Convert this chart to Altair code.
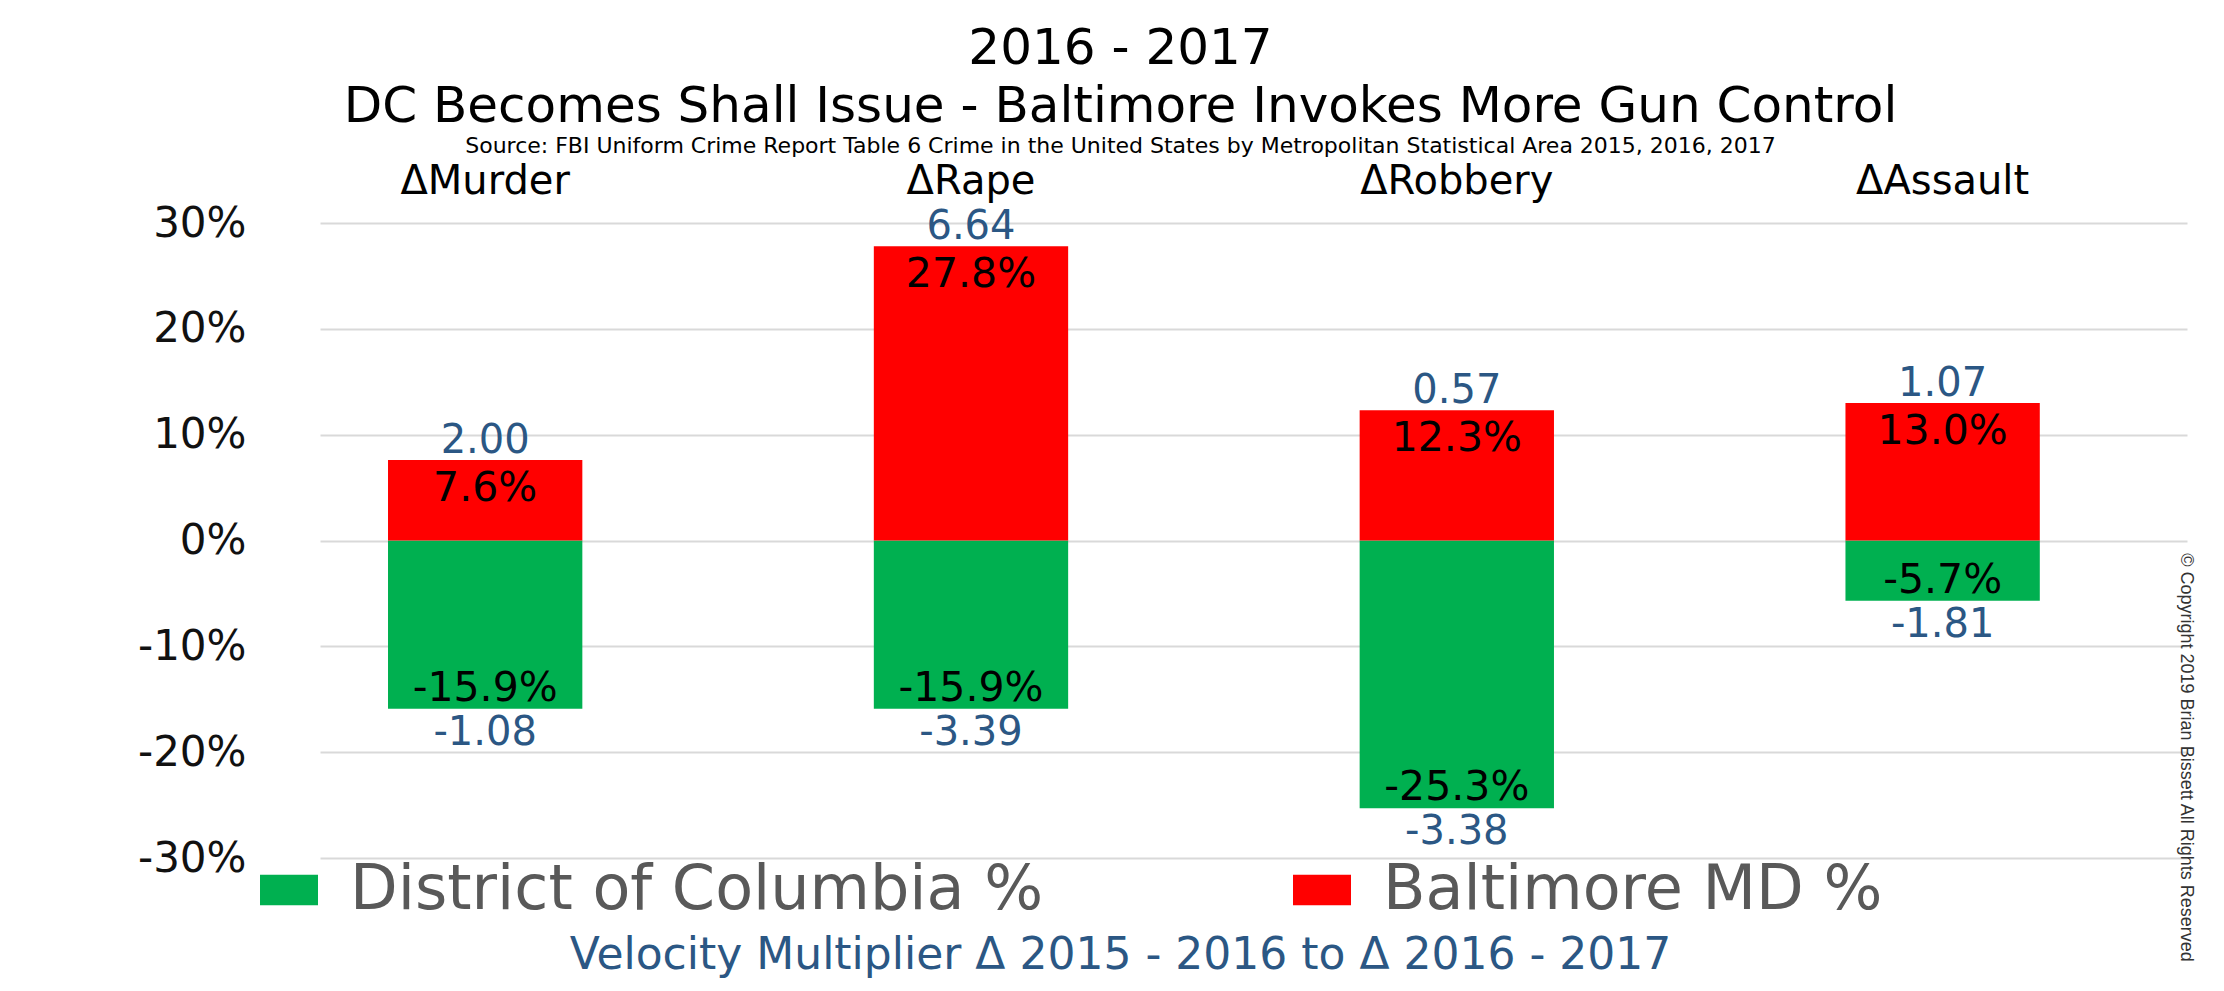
import altair as alt
import pandas as pd

# ---- data ----
crimes = ["ΔMurder", "ΔRape", "ΔRobbery", "ΔAssault"]
dc_pct = [-15.9, -15.9, -25.3, -5.7]
balt_pct = [7.6, 27.8, 12.3, 13.0]
dc_vel = [-1.08, -3.39, -3.38, -1.81]
balt_vel = [2.00, 6.64, 0.57, 1.07]
series_names = ["District of Columbia %", "Baltimore MD %"]
series_colors = ["#00B050", "#FF0000"]
y_ticks = [-30, -20, -10, 0, 10, 20, 30]

rows = []
for i, c in enumerate(crimes):
    rows.append(dict(crime=c, series=series_names[0], value=dc_pct[i], vel=dc_vel[i]))
    rows.append(dict(crime=c, series=series_names[1], value=balt_pct[i], vel=balt_vel[i]))
df = pd.DataFrame(rows)
df["pct_label"] = df["value"].map(lambda v: f"{v:.1f}%")
df["vel_label"] = df["vel"].map(lambda v: f"{v:.2f}")

FONT = "DejaVu Sans"
BLUE = "#2B5784"

x_scale = alt.Scale(domain=crimes, paddingInner=0.6, paddingOuter=0.2215, align=0.316)
y_scale = alt.Scale(domain=[-30, 30], nice=False, zero=False)

no_x = alt.X("crime:N", scale=x_scale, axis=None)
no_y = alt.Y("value:Q", scale=y_scale, axis=None)

base = alt.Chart(df)

bars = base.mark_bar(strokeWidth=0).encode(
    x=alt.X(
        "crime:N",
        scale=x_scale,
        axis=alt.Axis(
            orient="top", title=None, labelAngle=0, labelFontSize=40,
            labelFont=FONT, labelColor="#000000", labelBaseline="alphabetic",
            labelPadding=30, labelLimit=1000, ticks=False, tickSize=0,
            domain=False, grid=False,
        ),
    ),
    y=alt.Y(
        "value:Q",
        scale=y_scale,
        stack=None,
        axis=alt.Axis(
            values=y_ticks, labelExpr="datum.value + '%'", labelFontSize=42,
            labelFont=FONT, labelColor="#111111", labelPadding=74, ticks=False,
            tickSize=0, domain=False, grid=True, gridColor="#D9D9D9",
            gridWidth=2, title=None,
        ),
    ),
    color=alt.Color(
        "series:N",
        scale=alt.Scale(domain=series_names, range=series_colors),
        legend=alt.Legend(
            orient="none", legendX=-62, legendY=636, direction="horizontal",
            title=None, labelFontSize=62, labelFont=FONT, labelColor="#595959",
            symbolType="M-1,-0.53H1V0.53H-1Z", symbolSize=3364,
            symbolStrokeWidth=0, symbolOpacity=1, labelOffset=30,
            columnPadding=247, padding=0, labelLimit=2000,
        ),
    ),
)

balt = base.transform_filter(alt.datum.series == series_names[1])
dcs = base.transform_filter(alt.datum.series == series_names[0])

pct_balt = balt.mark_text(
    font=FONT, fontSize=41, color="#000000", baseline="alphabetic", dy=41
).encode(x=no_x, y=no_y, text="pct_label:N")

pct_dc = dcs.mark_text(
    font=FONT, fontSize=41, color="#000000", baseline="alphabetic", dy=-8
).encode(x=no_x, y=no_y, text="pct_label:N")

vel_balt = balt.mark_text(
    font=FONT, fontSize=40, color=BLUE, baseline="alphabetic", dy=-7
).encode(x=no_x, y=no_y, text="vel_label:N")

vel_dc = dcs.mark_text(
    font=FONT, fontSize=40, color=BLUE, baseline="alphabetic", dy=36
).encode(
    x=alt.X(
        "crime:N",
        scale=x_scale,
        axis=alt.Axis(
            orient="bottom", labels=False, ticks=False, tickSize=0,
            domain=False, grid=False,
            title="Velocity Multiplier Δ 2015 - 2016 to Δ 2016 - 2017",
            titleFont=FONT, titleFontSize=44, titleFontWeight="normal",
            titleColor=BLUE, titleX=800, titleY=110, titleAlign="center",
            titleBaseline="alphabetic", titleLimit=3000,
        ),
    ),
    y=alt.Y(
        "value:Q",
        scale=y_scale,
        axis=alt.Axis(
            orient="right", labels=False, ticks=False, tickSize=0,
            domain=False, grid=False,
            title="© Copyright 2019 Brian Bissett All Rights Reserved",
            titleFont="Liberation Sans", titleFontSize=18,
            titleFontWeight="normal", titleColor="#333333", titleAngle=90,
            titleX=-2, titleY=534, titleAlign="center", titleBaseline="middle",
            titleLimit=2000,
        ),
    ),
    text="vel_label:N",
)

chart = (
    alt.layer(bars, pct_balt, pct_dc, vel_balt, vel_dc)
    .resolve_axis(x="independent", y="independent")
    .properties(
        width=1867,
        height=635,
        padding={"left": 312, "top": 215, "right": 29, "bottom": 125},
        autosize=alt.AutoSizeParams(type="none"),
        background="#FFFFFF",
        title=alt.TitleParams(
            text=["2016 - 2017",
                  "DC Becomes Shall Issue - Baltimore Invokes More Gun Control"],
            subtitle="Source: FBI Uniform Crime Report Table 6 Crime in the United States by Metropolitan Statistical Area 2015, 2016, 2017",
            font=FONT, fontSize=50, fontWeight="normal", color="#000000",
            lineHeight=58, subtitleFont=FONT, subtitleFontSize=22,
            subtitleColor="#000000", subtitlePadding=4, anchor="middle",
            dx=-133, dy=0, offset=4,
        ),
    )
    .configure_view(stroke=None)
)

chart.save("out.html", embed_options={"renderer": "svg", "actions": False})
